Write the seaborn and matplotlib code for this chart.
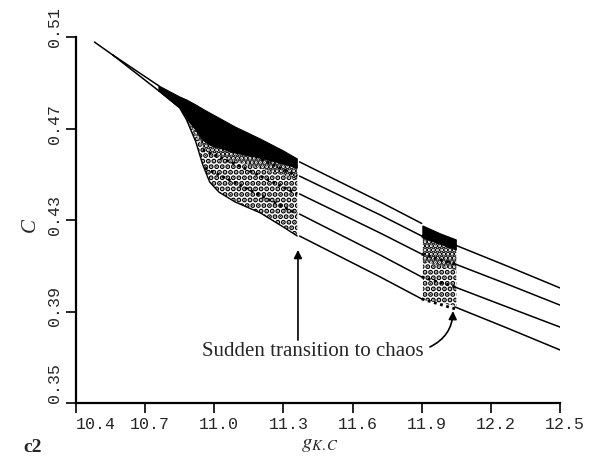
import numpy as np
import pandas as pd
import matplotlib
matplotlib.use("Agg")
import matplotlib.pyplot as plt
import matplotlib.transforms as mtransforms
import seaborn as sns

# ---- bifurcation data: parameter g_K,C vs. C ----
# single stable branch and the period-2 pair that follows it
stem_g = [10.48, 10.56]
stem_c = [0.5078, 0.5021]
p2_g = [10.56, 10.76]
p2_hi = [0.5021, 0.4886]
p2_lo = [0.5021, 0.4864]

# first chaotic band: upper edge, solid core, dense speckle, lower edge
band1_g = [10.76, 10.85, 10.88, 10.92, 10.95, 10.98, 11.02, 11.09, 11.20, 11.30, 11.36]
band1_top = [0.4886, 0.4838, 0.4825, 0.4803, 0.4785, 0.4768, 0.4746, 0.4707, 0.4654, 0.4602, 0.4567]
band1_core = [0.4864, 0.4790, 0.4746, 0.4693, 0.4650, 0.4628, 0.4615, 0.4593, 0.4571, 0.4545, 0.4527]
band1_mid = [0.4864, 0.4790, 0.4737, 0.4672, 0.4619, 0.4597, 0.4580, 0.4558, 0.4527, 0.4497, 0.4475]
band1_low = [0.4864, 0.4790, 0.4737, 0.4641, 0.4541, 0.4466, 0.4422, 0.4379, 0.4331, 0.4269, 0.4230]

# branches visible inside the first chaotic band
inner_g = [[10.93, 11.11, 11.36], [10.95, 11.11, 11.36], [10.96, 11.11, 11.36]]
inner_c = [[0.4702, 0.4610, 0.4492], [0.4606, 0.4536, 0.4414], [0.4527, 0.4453, 0.4327]]

# period-5 window between the two chaotic bands
win1_g = [11.37, 11.72, 11.90]
win1_c = [
    [0.4554, 0.4379, 0.4285],
    [0.4492, 0.4322, 0.4230],
    [0.4414, 0.4243, 0.4151],
    [0.4326, 0.4147, 0.4051],
    [0.4230, 0.4051, 0.3955],
]

# second chaotic band
band2_g = [11.905, 11.98, 12.05]
band2_top = [0.4274, 0.4240, 0.4213]
band2_core = [0.4221, 0.4195, 0.4169]
band2_mid = [0.4120, 0.4100, 0.4080]
band2_low = [0.3950, 0.3937, 0.3924]

# period-4 window after the second band
win2_g = [12.044, 12.27, 12.50]
win2_c = [
    [0.4191, 0.4099, 0.4003],
    [0.4108, 0.4020, 0.3928],
    [0.4007, 0.3920, 0.3832],
    [0.3920, 0.3828, 0.3732],
]

x_ticks = [10.4, 10.7, 11.0, 11.3, 11.6, 11.9, 12.2, 12.5]
y_ticks = [0.35, 0.39, 0.43, 0.47, 0.51]

# ---- style ----
sns.set_style("ticks")
plt.rcParams["font.family"] = ["Liberation Serif", "DejaVu Serif"]
plt.rcParams["mathtext.fontset"] = "stix"
plt.rcParams["hatch.linewidth"] = 2.6
plt.rcParams["hatch.color"] = "black"

fig = plt.figure(figsize=(5.98, 4.62), dpi=100)
ax = fig.add_axes([76 / 598, 59 / 462, 484 / 598, 366 / 462])

LW = 1.1


def curve(g, c, **kw):
    df = pd.DataFrame({"g": g, "c": c})
    sns.lineplot(data=df, x="g", y="c", ax=ax, color="black", estimator=None,
                 sort=False, linewidth=kw.pop("lw", LW), **kw)


def region(g, lower, upper, **kw):
    # closed polygon running along the upper edge and back along the lower one
    xs = list(g) + list(g)[::-1]
    ys = list(upper) + list(lower)[::-1]
    ax.fill(xs, ys, **kw)


# stable branch and period doubling
curve(stem_g, stem_c)
curve(p2_g, p2_hi)
curve(p2_g, p2_lo)

# chaotic band 1: solid core, dense speckle, sparse speckle
region(band1_g, band1_core, band1_top, color="black", linewidth=0.8)
region(band1_g, band1_mid, band1_core, facecolor="none", edgecolor="black",
       hatch="....", linewidth=0)
region(band1_g, band1_low, band1_mid, facecolor="none", edgecolor="black",
       hatch="...", linewidth=0)
curve(band1_g, band1_low, lw=1.0)
for g, c in zip(inner_g, inner_c):
    curve(g, c, lw=2.0, linestyle=(0, (1.0, 1.3)))

# periodic window 1
for c in win1_c:
    curve(win1_g, c)

# chaotic band 2
region(band2_g, band2_core, band2_top, color="black", linewidth=0.8)
region(band2_g, band2_mid, band2_core, facecolor="none", edgecolor="black",
       hatch="....", linewidth=0)
region(band2_g, band2_low, band2_mid, facecolor="none", edgecolor="black",
       hatch="...", linewidth=0)
for c in win1_c[1:]:
    curve([win1_g[-1], band2_g[-1]], [c[-1], c[-1] - 0.0045], lw=2.0,
          linestyle=(0, (1.0, 1.3)))

# periodic window 2
for c in win2_c:
    curve(win2_g, c)

# ---- annotation ----
ax.text(10.9466, 0.3723, "Sudden transition to chaos", fontsize=15,
        ha="left", va="center", family=["Liberation Serif"])
ax.annotate("", xy=(11.3631, 0.4169), xytext=(11.3631, 0.3775),
            arrowprops=dict(arrowstyle="-|>", color="black", lw=1.2,
                            mutation_scale=12, shrinkA=0, shrinkB=0))
ax.annotate("", xy=(12.0356, 0.3902), xytext=(11.9358, 0.3745),
            arrowprops=dict(arrowstyle="-|>", color="black", lw=1.2,
                            mutation_scale=12, shrinkA=0, shrinkB=0,
                            connectionstyle="arc3,rad=0.3"))

# ---- axes ----
ax.set_xlim(10.4, 12.5)
ax.set_ylim(0.35, 0.51)
ax.set_xticks(x_ticks)
ax.set_xticklabels([f"{v:.1f}" for v in x_ticks], family="Liberation Mono", fontsize=12)
ax.set_yticks(y_ticks)
ax.set_yticklabels([f"{v:.2f}" for v in y_ticks], family="Liberation Mono", fontsize=12,
                   rotation=90, va="center")
ax.tick_params(direction="out", length=7, width=1.2, color="black", pad=3)
ax.set_xlabel("")
ax.set_ylabel("")
sns.despine(ax=ax)
for s in ("left", "bottom"):
    ax.spines[s].set_linewidth(1.6)
    ax.spines[s].set_color("black")

# nudge tick labels (pixels at 100 dpi)
x_shift = [20, 5, 5, 5, 5, 5, 5, 5]
y_shift = [20, 5, 5, 5, 10]
for lab, dx in zip(ax.get_xticklabels(), x_shift):
    lab.set_transform(lab.get_transform() + mtransforms.Affine2D().translate(dx, 0))
for lab, dy in zip(ax.get_yticklabels(), y_shift):
    lab.set_transform(lab.get_transform() + mtransforms.Affine2D().translate(0, dy))

fig.text(30 / 598, 1 - 225 / 462, "C", rotation=90, fontsize=15, style="italic",
         ha="center", va="center")
fig.text(320 / 598, 1 - 444 / 462, r"$g_{K.C}$", fontsize=15, ha="center", va="center")
fig.text(23 / 598, 1 - 447 / 462, "c2", fontsize=14, weight="bold", ha="left", va="center")

fig.savefig("out.png", dpi=100)
